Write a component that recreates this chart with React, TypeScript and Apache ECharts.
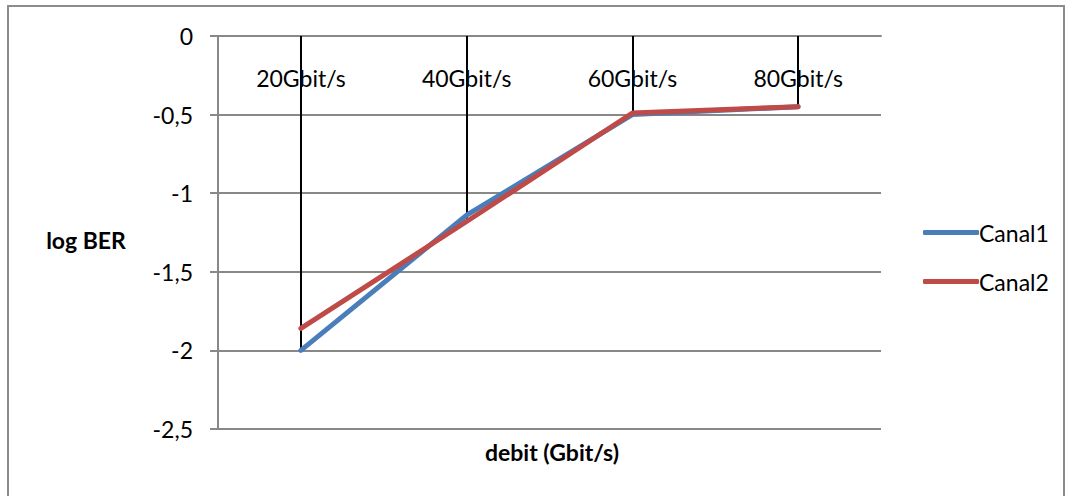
import React, { useEffect, useRef } from "react";
import * as echarts from "echarts";

const categories = ["20Gbit/s", "40Gbit/s", "60Gbit/s", "80Gbit/s"];
const canal1 = [-2, -1.14, -0.5, -0.45];
const canal2 = [-1.86, -1.18, -0.49, -0.45];
const yTicks = { min: -2.5, max: 0, interval: 0.5 };

export default function App() {
  const ref = useRef<HTMLDivElement>(null);
  useEffect(() => {
    const chart = echarts.init(ref.current!, null, { renderer: "svg" });
    const font = "Lato, 'Open Sans', sans-serif";
    const fs = 23;
    const drop = categories.map((c, i) => [
      { coord: [c, 0] },
      { coord: [c, Math.min(canal1[i], canal2[i])] },
    ]);
    chart.setOption({
      animation: false,
      backgroundColor: "#fff",
      textStyle: { fontFamily: font },
      graphic: [
        {
          type: "rect",
          shape: { x: 8, y: 6, width: 1056, height: 520 },
          style: { fill: "none", stroke: "#8c8c8c", lineWidth: 2 },
          silent: true,
        },
        {
          type: "text",
          x: 86,
          y: 240,
          style: {
            text: "log BER",
            font: "bold " + fs + "px " + font,
            fill: "#000",
            textAlign: "center",
            textVerticalAlign: "middle",
          },
        },
        {
          type: "text",
          x: 552,
          y: 452,
          style: {
            text: "debit (Gbit/s)",
            font: "bold " + fs + "px " + font,
            fill: "#000",
            textAlign: "center",
            textVerticalAlign: "middle",
          },
        },
      ],
      grid: { left: 218, right: 191, top: 36, bottom: 67 },
      legend: {
        orient: "vertical",
        left: 918,
        top: 216,
        itemGap: 26,
        itemWidth: 56,
        itemHeight: 5,
        icon: "roundRect",
        textStyle: { fontSize: fs, fontFamily: font, color: "#000", padding: [0, 0, 0, -5] },
        data: ["Canal1", "Canal2"],
      },
      xAxis: {
        type: "category",
        data: categories,
        position: "top",
        boundaryGap: true,
        axisLine: { lineStyle: { color: "#888", width: 2 } },
        axisTick: { show: false },
        axisLabel: { inside: true, margin: 30, fontSize: fs, color: "#000", fontFamily: font },
      },
      yAxis: {
        type: "value",
        min: yTicks.min,
        max: yTicks.max,
        interval: yTicks.interval,
        axisLine: { show: true, lineStyle: { color: "#888", width: 2 } },
        axisTick: { show: true, length: 8, lineStyle: { color: "#888", width: 2 } },
        splitLine: { lineStyle: { color: "#888", width: 2 } },
        axisLabel: {
          margin: 25,
          fontSize: fs,
          color: "#000",
          fontFamily: font,
          formatter: (v: number) => String(v).replace(".", ","),
        },
      },
      series: [
        {
          name: "Canal1",
          type: "line",
          data: canal1,
          symbol: "none",
          lineStyle: { color: "#4a7ebb", width: 5, cap: "round" },
          itemStyle: { color: "#4a7ebb" },
          z: 3,
          markLine: {
            silent: true,
            symbol: "none",
            label: { show: false },
            lineStyle: { color: "#000", width: 2, type: "solid" },
            data: drop,
            z: 2,
          },
        },
        {
          name: "Canal2",
          type: "line",
          data: canal2,
          symbol: "none",
          lineStyle: { color: "#be4b48", width: 5, cap: "round" },
          itemStyle: { color: "#be4b48" },
          z: 4,
        },
      ],
    });
    return () => chart.dispose();
  }, []);
  return (
    <div
      ref={ref}
      style={{ position: "absolute", left: 0, top: 0, width: 1072, height: 496 }}
    />
  );
}
